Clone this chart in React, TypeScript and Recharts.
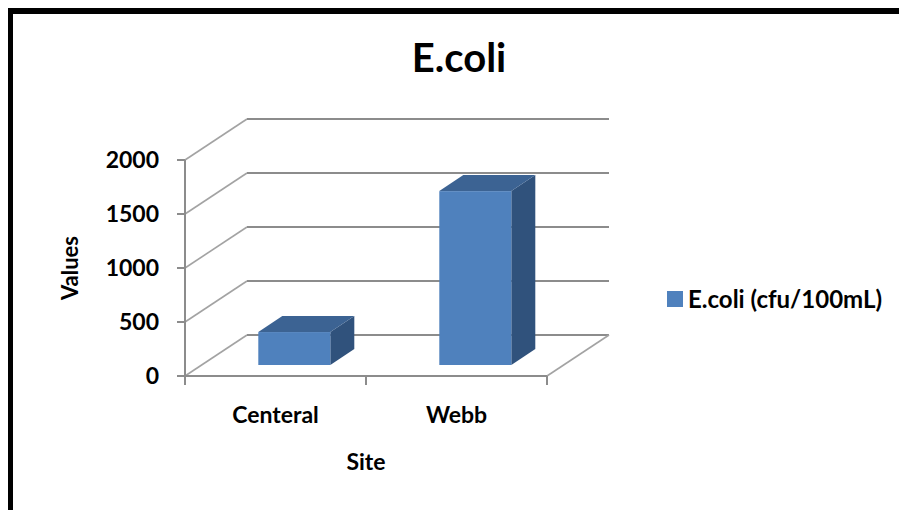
import React from 'react';
import { BarChart, Bar, XAxis, YAxis, CartesianGrid, Label } from 'recharts';

const sites = ['Centeral', 'Webb'];
const ecoliValues = [305, 1610];
const yTicks = [0, 500, 1000, 1500, 2000];
const seriesName = 'E.coli (cfu/100mL)';

const data = sites.map((site, i) => ({ site, value: ecoliValues[i] }));

const FONT = 'Lato, "Open Sans", sans-serif';
const AXIS_GRAY = '#8c8c8c';

// plot box (page coords)
const PLOT_LEFT = 185;
const PLOT_TOP = 160;
const PLOT_RIGHT = 547;
const PLOT_BOTTOM = 376;

// fake 3d offsets
const WALL_DX = 62;
const WALL_DY = 41;
const BAR_SHIFT_X = 19;
const BAR_SHIFT_Y = 11;
const BAR_DX = 24;
const BAR_DY = 16;

const WallLine = (props: any) => {
    const { x1, y1, x2, index } = props;
    const isFloor = Math.abs(y1 - PLOT_BOTTOM) < 1;
    const mid = (x1 + x2) / 2;
    return (
        <g key={`wall-${index}`}>
            <line x1={x1} y1={y1} x2={x1 + WALL_DX} y2={y1 - WALL_DY} stroke="#a3a3a3" strokeWidth={1.6} />
            <line x1={x1 + WALL_DX} y1={y1 - WALL_DY} x2={x2 + WALL_DX} y2={y1 - WALL_DY} stroke={AXIS_GRAY} strokeWidth={2} />
            {isFloor && (
                <>
                    <line x1={x2} y1={y1} x2={x2 + WALL_DX} y2={y1 - WALL_DY} stroke="#a3a3a3" strokeWidth={1.6} />
                    {[x1, mid, x2].map((tx, i) => (
                        <line key={i} x1={tx} y1={y1} x2={tx} y2={y1 + 9} stroke={AXIS_GRAY} strokeWidth={2} />
                    ))}
                </>
            )}
        </g>
    );
};

const Bar3D = (props: any) => {
    const { x, y, width, height } = props;
    const fx = x + BAR_SHIFT_X;
    const fy = y - BAR_SHIFT_Y;
    const top = `${fx},${fy} ${fx + width},${fy} ${fx + width + BAR_DX},${fy - BAR_DY} ${fx + BAR_DX},${fy - BAR_DY}`;
    const side = `${fx + width},${fy} ${fx + width + BAR_DX},${fy - BAR_DY} ${fx + width + BAR_DX},${fy + height - BAR_DY} ${fx + width},${fy + height}`;
    return (
        <g>
            <polygon points={side} fill="#30527c" />
            <polygon points={top} fill="#3c6393" />
            <rect x={fx} y={fy} width={width} height={height} fill="#4f81bd" />
        </g>
    );
};

export default function App() {
    return (
        <div style={{ position: 'absolute', left: 0, top: 0, width: 899, height: 510, background: '#fff' }}>
            <div
                style={{
                    position: 'absolute', left: 8, top: 8, width: 891, height: 502,
                    borderTop: '6px solid #000', borderLeft: '5px solid #000', boxSizing: 'border-box',
                }}
            />
            <div
                style={{
                    position: 'absolute', left: 359, top: 37, width: 200, textAlign: 'center',
                    fontFamily: FONT, fontWeight: 700, fontSize: 40, lineHeight: '40px', color: '#000',
                }}
            >
                E.coli
            </div>
            <div style={{ position: 'absolute', left: 0, top: 0 }}>
                <BarChart
                    width={899}
                    height={510}
                    data={data}
                    margin={{ top: PLOT_TOP, right: 899 - PLOT_RIGHT, bottom: 0, left: 0 }}
                    barCategoryGap="30%"
                >
                    <CartesianGrid vertical={false} horizontal={WallLine} />
                    <XAxis
                        dataKey="site"
                        height={510 - PLOT_BOTTOM}
                        tickLine={false}
                        tickSize={0}
                        tickMargin={31}
                        axisLine={{ stroke: AXIS_GRAY, strokeWidth: 2 }}
                        tick={{ fill: '#000', fontFamily: FONT, fontWeight: 700, fontSize: 23 }}
                    >
                        <Label value="Site" position="insideTop" offset={78}
                            style={{ fill: '#000', fontFamily: FONT, fontWeight: 700, fontSize: 23 }} />
                    </XAxis>
                    <YAxis
                        width={PLOT_LEFT}
                        domain={[0, 2000]}
                        ticks={yTicks}
                        tickSize={8}
                        tickMargin={18}
                        axisLine={{ stroke: AXIS_GRAY, strokeWidth: 2 }}
                        tickLine={{ stroke: AXIS_GRAY, strokeWidth: 2 }}
                        tick={{ fill: '#000', fontFamily: FONT, fontWeight: 700, fontSize: 23 }}
                    >
                        <Label value="Values" angle={-90} position="insideLeft" offset={70}
                            style={{ fill: '#000', fontFamily: FONT, fontWeight: 700, fontSize: 22, textAnchor: 'middle' }} />
                    </YAxis>
                    <Bar dataKey="value" name={seriesName} fill="#4f81bd" shape={Bar3D} isAnimationActive={false} />
                </BarChart>
            </div>
            {/* series key */}
            <div
                style={{
                    position: 'absolute', left: 667, top: 284, display: 'flex', alignItems: 'center',
                    fontFamily: FONT, fontWeight: 700, fontSize: 24, color: '#000', whiteSpace: 'nowrap',
                }}
            >
                <span style={{ width: 16, height: 16, background: '#4f81bd', marginRight: 5 }} />
                <span>{seriesName}</span>
            </div>
        </div>
    );
}
